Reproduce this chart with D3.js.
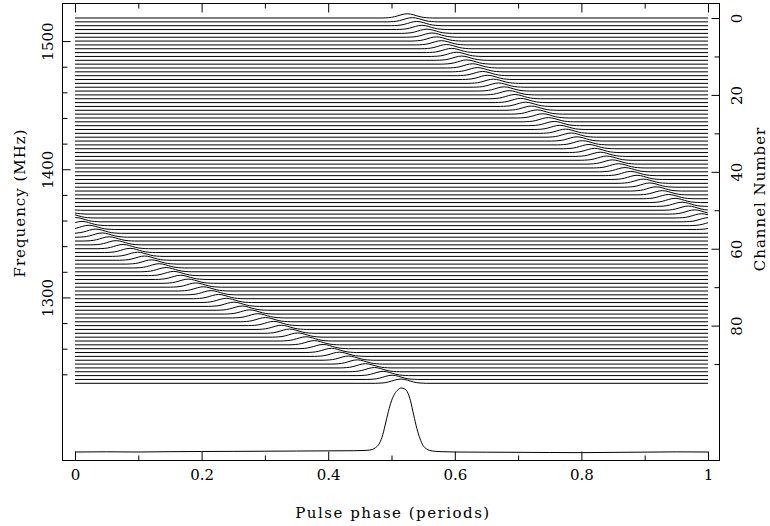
<!DOCTYPE html>
<html>
<head>
<meta charset="utf-8">
<script src="https://cdn.jsdelivr.net/npm/d3@7/dist/d3.min.js"></script>
<style>
body { margin: 0; background: #fff; }
text { font-family: "DejaVu Serif", serif; font-size: 15px; fill: #000; }
.axis line { stroke: #000; }
</style>
</head>
<body>
<svg id="chart" width="770" height="526"></svg>
<script>
// pulse peak phase (channel 0 = top, 1518 MHz, 3 MHz wide)
var peakPhase = [
	0.525, 0.533, 0.540, 0.548, 0.556, 0.564, 0.571, 0.579, 0.587, 0.595,
	0.603, 0.611, 0.619, 0.628, 0.636, 0.644, 0.652, 0.661, 0.669, 0.678,
	0.686, 0.695, 0.704, 0.712, 0.721, 0.730, 0.739, 0.748, 0.757, 0.766,
	0.775, 0.784, 0.793, 0.802, 0.812, 0.821, 0.830, 0.840, 0.849, 0.859,
	0.869, 0.878, 0.888, 0.898, 0.908, 0.918, 0.928, 0.938, 0.948, 0.959,
	0.969, 0.979, 0.990, 0.001, 0.011, 0.022, 0.033, 0.043, 0.054, 0.065,
	0.076, 0.087, 0.099, 0.110, 0.121, 0.133, 0.144, 0.156, 0.167, 0.179,
	0.191, 0.203, 0.215, 0.227, 0.239, 0.251, 0.264, 0.276, 0.289, 0.301,
	0.314, 0.326, 0.339, 0.352, 0.365, 0.378, 0.392, 0.405, 0.418, 0.432,
	0.446, 0.459, 0.473, 0.487, 0.501, 0.515
];
var topFreq = 1518;
var chanWidth = 3;

// single channel pulse shape (phase offset from peak, height in channel spacings)
var pulseOffset = [-0.04, -0.035, -0.03, -0.025, -0.02, -0.015, -0.01, -0.005, 0,
	0.005, 0.01, 0.015, 0.02, 0.025, 0.03, 0.035, 0.04];
var pulseHeight = [0, 0.03, 0.08, 0.17, 0.34, 0.57, 0.82, 1.02, 1.1,
	1.02, 0.82, 0.57, 0.34, 0.17, 0.08, 0.03, 0];

// summed profile at the bottom
var profPhase = [0, 0.05, 0.1, 0.15, 0.2, 0.25, 0.3, 0.35, 0.4, 0.44, 0.46, 0.47, 0.475,
	0.48, 0.485, 0.49, 0.495, 0.5, 0.505, 0.51, 0.515, 0.52, 0.525, 0.53, 0.535, 0.54,
	0.545, 0.55, 0.555, 0.56, 0.57, 0.58, 0.6, 0.65, 0.7, 0.75, 0.8, 0.85, 0.9, 0.95, 1];
var profValue = [0, 0.003, 0, 0.005, 0.008, 0.01, 0.012, 0.015, 0.018, 0.02, 0.025, 0.04, 0.07,
	0.12, 0.23, 0.42, 0.63, 0.8, 0.91, 0.97, 1.0, 0.99, 0.94, 0.8, 0.58, 0.37,
	0.21, 0.1, 0.05, 0.025, 0.01, 0.005, 0, -0.003, -0.005, -0.008, -0.01, -0.006, -0.002, 0.002, 0];

var phaseTicks = [0, 0.2, 0.4, 0.6, 0.8, 1];
var phaseLabels = ["0", "0.2", "0.4", "0.6", "0.8", "1"];
var phaseMinor = [0.1, 0.3, 0.5, 0.7, 0.9];
var freqTicks = [1300, 1400, 1500];
var freqLabels = ["1300", "1400", "1500"];
var freqMinor = [1240, 1260, 1280, 1320, 1340, 1360, 1380, 1420, 1440, 1460, 1480];
var chanTicks = [0, 20, 40, 60, 80];
var chanLabels = ["0", "20", "40", "60", "80"];
var chanMinor = [10, 30, 50, 70, 90];

var svg = d3.select("#chart");
var nChan = peakPhase.length;

var x = d3.scaleLinear().domain([0, 1]).range([75, 708]);
var chan = d3.scaleLinear().domain([0, nChan - 1]).range([18, 383.3]);
var freq = d3.scaleLinear().domain([topFreq, topFreq - chanWidth * (nChan - 1)]).range([18, 383.3]);
var prof = d3.scaleLinear().domain([0, 1]).range([452, 388]);

//height of a channel pulse at a given phase, reading the template
function pulseAt(p, peak) {
	var d = p - peak;
	d = d - Math.round(d);
	if (d <= pulseOffset[0] || d >= pulseOffset[pulseOffset.length - 1]) return 0;
	var i = d3.bisectRight(pulseOffset, d) - 1;
	var t = (d - pulseOffset[i]) / (pulseOffset[i + 1] - pulseOffset[i]);
	return pulseHeight[i] + t * (pulseHeight[i + 1] - pulseHeight[i]);
}

var traces = svg.append("g").attr("class", "traces");
peakPhase.forEach(function(peak, c) {
	var pts = [[0, pulseAt(0, peak)], [1, pulseAt(1, peak)]];
	[-1, 0, 1].forEach(function(k) {
		pulseOffset.forEach(function(o, j) {
			var p = peak + o + k;
			if (p > 0 && p < 1) pts.push([p, pulseHeight[j]]);
		});
	});
	pts.sort(function(a, b) { return a[0] - b[0]; });
	var line = d3.line()
		.x(function(d) { return x(d[0]); })
		.y(function(d) { return chan(c - d[1]); })
		.curve(d3.curveMonotoneX);
	traces.append("path")
		.attr("d", line(pts))
		.attr("fill", "none")
		.attr("stroke", "#000")
		.attr("stroke-width", 1);
});

var profLine = d3.line()
	.x(function(d, i) { return x(profPhase[i]); })
	.y(function(d) { return prof(d); })
	.curve(d3.curveMonotoneX);
svg.append("path")
	.attr("d", profLine(profValue))
	.attr("fill", "none")
	.attr("stroke", "#000")
	.attr("stroke-width", 1);

// frame
svg.append("rect")
	.attr("x", 62.5).attr("y", 3.5)
	.attr("width", 657).attr("height", 457)
	.attr("fill", "none").attr("stroke", "#000").attr("stroke-width", 1);

function addAxis(axis, tx, ty) {
	var g = svg.append("g").attr("class", "axis")
		.attr("transform", "translate(" + tx + "," + ty + ")")
		.call(axis);
	g.select(".domain").remove();
	return g;
}

// bottom and top phase axes
addAxis(d3.axisBottom(x).tickValues(phaseTicks).tickSize(-9).tickSizeOuter(0).tickPadding(9)
	.tickFormat(function(d, i) { return phaseLabels[i]; }), 0, 460.5)
	.selectAll("text").style("font-family", "DejaVu Serif").style("font-size", "15px");
addAxis(d3.axisBottom(x).tickValues(phaseMinor).tickSize(-5).tickSizeOuter(0).tickFormat(""), 0, 460.5);
addAxis(d3.axisTop(x).tickValues(phaseTicks).tickSize(-9).tickSizeOuter(0).tickFormat(""), 0, 3.5);
addAxis(d3.axisTop(x).tickValues(phaseMinor).tickSize(-5).tickSizeOuter(0).tickFormat(""), 0, 3.5);

// left frequency axis, rotated labels
var gl = addAxis(d3.axisLeft(freq).tickValues(freqTicks).tickSize(-8).tickSizeOuter(0)
	.tickFormat(function(d, i) { return freqLabels[i]; }), 62.5, 0);
gl.selectAll("text")
	.attr("transform", "rotate(-90)")
	.attr("x", 0).attr("y", -10).attr("dy", 0)
	.attr("text-anchor", "middle")
	.style("font-family", "DejaVu Serif").style("font-size", "15px");
addAxis(d3.axisLeft(freq).tickValues(freqMinor).tickSize(-5).tickSizeOuter(0).tickFormat(""), 62.5, 0);

// right channel axis
var gr = addAxis(d3.axisRight(chan).tickValues(chanTicks).tickSize(-8).tickSizeOuter(0)
	.tickFormat(function(d, i) { return chanLabels[i]; }), 719.5, 0);
gr.selectAll("text")
	.attr("transform", "rotate(-90)")
	.attr("x", 0).attr("y", 22).attr("dy", 0)
	.attr("text-anchor", "middle")
	.style("font-family", "DejaVu Serif").style("font-size", "15px");
addAxis(d3.axisRight(chan).tickValues(chanMinor).tickSize(-5).tickSizeOuter(0).tickFormat(""), 719.5, 0);

// titles
svg.append("text")
	.attr("x", 393).attr("y", 518)
	.attr("text-anchor", "middle")
	.style("letter-spacing", "1.5px")
	.text("Pulse phase (periods)");
svg.append("text")
	.attr("transform", "translate(25,203) rotate(-90)")
	.attr("text-anchor", "middle")
	.style("letter-spacing", "1px")
	.text("Frequency (MHz)");
svg.append("text")
	.attr("transform", "translate(765,199) rotate(-90)")
	.attr("text-anchor", "middle")
	.style("letter-spacing", "1px")
	.text("Channel Number");
</script>
</body>
</html>
